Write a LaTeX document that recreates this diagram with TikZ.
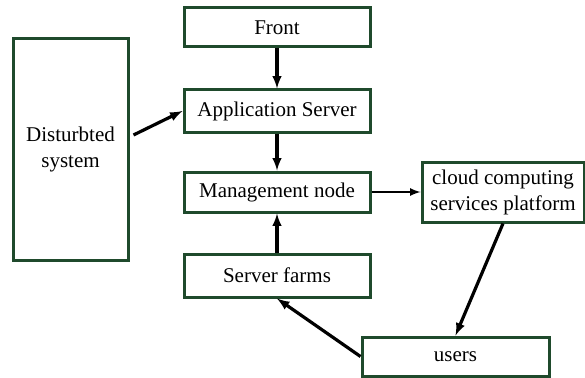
\documentclass[tikz,border=0pt]{standalone}
\usepackage{fontspec}
\setmainfont{Liberation Serif}
\definecolor{boxgreen}{HTML}{1F4A2C}

\begin{document}
\begin{tikzpicture}[>=latex, x=1pt, y=-1pt,
		blk/.style={draw=boxgreen, line width=3pt, inner sep=0pt, align=center, font=\fontsize{21}{26}\selectfont},
		link/.style={->, line width=3.2pt},
		thin link/.style={->, line width=2.5pt}]
	\useasboundingbox (0,0) rectangle (585,377);
	\node[blk, minimum width=186pt, minimum height=39pt] (front) at (277,27.5) {Front};
	\node[blk, minimum width=186pt, minimum height=42pt] (app) at (277,111) {Application Server};
	\node[blk, minimum width=186pt, minimum height=40pt] (mgmt) at (277,192) {Management node};
	\node[blk, minimum width=186pt, minimum height=43pt] (farms) at (277,275.5) {Server farms};
	\node[blk, minimum width=115pt, minimum height=221pt] (dist) at (70.5,149.5) {Disturbted\\system};
	\node[blk, minimum width=162pt, minimum height=60pt] (cloud) at (503,192) {cloud computing\\services platform};
	\node[blk, minimum width=187pt, minimum height=39pt] (users) at (455.5,356.5) {users};
	\draw[link] (front) -- (app);
	\draw[link] (app) -- (mgmt);
	\draw[link] ([shift={(4,-14.5)}]dist.east) -- (app.west);
	\draw[thin link] (mgmt) -- (cloud);
	\draw[link] (farms) -- (mgmt);
	\draw[link] (cloud.south) -- (users.north);
	\draw[link] (users.west) -- (farms.south);
\end{tikzpicture}
\end{document}
